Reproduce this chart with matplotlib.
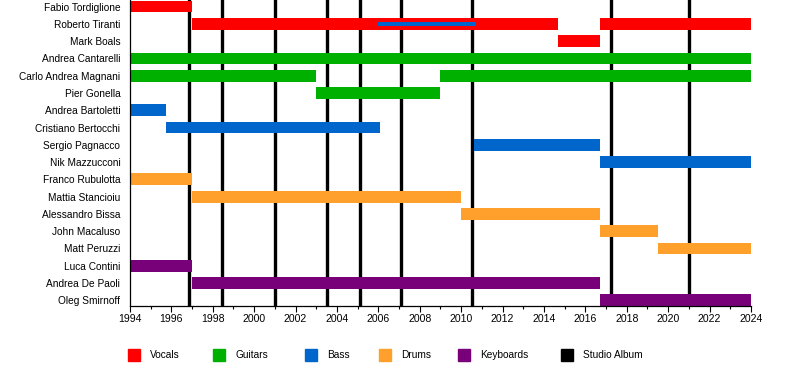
import matplotlib
matplotlib.use("Agg")
import matplotlib.pyplot as plt
from matplotlib.patches import Rectangle
from matplotlib.ticker import MultipleLocator

plt.rcParams['font.family'] = ['Liberation Sans', 'DejaVu Sans']

# members, top to bottom
members = [
    "Fabio Tordiglione", "Roberto Tiranti", "Mark Boals",
    "Andrea Cantarelli", "Carlo Andrea Magnani", "Pier Gonella",
    "Andrea Bartoletti", "Cristiano Bertocchi", "Sergio Pagnacco",
    "Nik Mazzucconi", "Franco Rubulotta", "Mattia Stancioiu",
    "Alessandro Bissa", "John Macaluso", "Matt Peruzzi",
    "Luca Contini", "Andrea De Paoli", "Oleg Smirnoff",
]

# (member, role, start, end)
spans = [
    ("Fabio Tordiglione", "Vocals", 1994.0, 1997.0),
    ("Roberto Tiranti", "Vocals", 1997.0, 2014.7),
    ("Roberto Tiranti", "Vocals", 2016.7, 2024.0),
    ("Mark Boals", "Vocals", 2014.7, 2016.7),
    ("Andrea Cantarelli", "Guitars", 1994.0, 2024.0),
    ("Carlo Andrea Magnani", "Guitars", 1994.0, 2003.0),
    ("Carlo Andrea Magnani", "Guitars", 2009.0, 2024.0),
    ("Pier Gonella", "Guitars", 2003.0, 2009.0),
    ("Andrea Bartoletti", "Bass", 1994.0, 1995.75),
    ("Cristiano Bertocchi", "Bass", 1995.75, 2006.1),
    ("Sergio Pagnacco", "Bass", 2010.6, 2016.7),
    ("Nik Mazzucconi", "Bass", 2016.7, 2024.0),
    ("Franco Rubulotta", "Drums", 1994.0, 1997.0),
    ("Mattia Stancioiu", "Drums", 1997.0, 2010.0),
    ("Alessandro Bissa", "Drums", 2010.0, 2016.7),
    ("John Macaluso", "Drums", 2016.7, 2019.5),
    ("Matt Peruzzi", "Drums", 2019.5, 2024.0),
    ("Luca Contini", "Keyboards", 1994.0, 1997.0),
    ("Andrea De Paoli", "Keyboards", 1997.0, 2016.7),
    ("Oleg Smirnoff", "Keyboards", 2016.7, 2024.0),
]

# secondary role drawn as a thin bar
thin_spans = [
    ("Roberto Tiranti", "Bass", 2006.0, 2010.7),
]

albums = [1996.85, 1998.45, 2001.0, 2003.5, 2005.1, 2007.1, 2010.5, 2017.25, 2021.0]

roles = ["Vocals", "Guitars", "Bass", "Drums", "Keyboards"]
colors = {
    "Vocals": "#ff0000",
    "Guitars": "#00b000",
    "Bass": "#0066cc",
    "Drums": "#ffa02c",
    "Keyboards": "#780078",
}

fig = plt.figure(figsize=(8, 3.86), dpi=100)
ax = fig.add_axes([130 / 800, 1 - 306 / 386, 621 / 800, 306 / 386])

row = {m: i for i, m in enumerate(members)}

for a in albums:
    ax.axvline(a, color="black", lw=2.4, zorder=1)

for m, r, s, e in spans:
    ax.barh(row[m], e - s, left=s, height=0.68, color=colors[r], zorder=2)

for m, r, s, e in thin_spans:
    ax.barh(row[m], e - s, left=s, height=0.22, color=colors[r], zorder=3)

ax.set_xlim(1994, 2024)
ax.set_ylim(len(members) - 1 + 0.33, -0.38)
ax.set_yticks(range(len(members)))
ax.set_yticklabels(members, fontsize=7.3)
ax.tick_params(axis="y", length=0, pad=7)
ax.xaxis.set_major_locator(MultipleLocator(2))
ax.xaxis.set_minor_locator(MultipleLocator(1))
ax.tick_params(axis="x", which="major", length=4, width=0.8, labelsize=7.6, pad=2)
ax.tick_params(axis="x", which="minor", length=2.5, width=0.8)
ax.spines["top"].set_visible(False)
ax.spines["right"].set_visible(False)
ax.spines["left"].set_linewidth(0.9)
ax.spines["bottom"].set_linewidth(0.9)

# legend laid out like the source timeline
legend_items = roles + ["Studio Album"]
legend_colors = [colors[r] for r in roles] + ["black"]
legend_x = [128, 213, 305, 379, 458, 561]
ly = 355
for lab, c, x in zip(legend_items, legend_colors, legend_x):
    fig.patches.append(Rectangle((x / 800, 1 - (ly + 6) / 386), 12 / 800, 12 / 386,
                                 transform=fig.transFigure, color=c))
    fig.text((x + 22) / 800, 1 - ly / 386, lab, fontsize=7.3, va="center", ha="left")

fig.savefig("out.png", dpi=100)
